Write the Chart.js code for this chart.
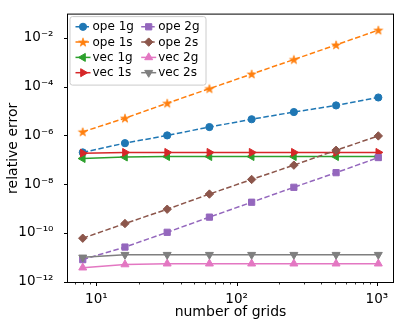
<!DOCTYPE html>
<html>
<head>
<meta charset="utf-8">
<script src="https://cdn.jsdelivr.net/npm/chart.js@4.4.0/dist/chart.umd.min.js"></script>
<style>
  html, body { margin: 0; padding: 0; background: #fff; }
</style>
</head>
<body>
<canvas id="myChart" width="399" height="325"></canvas>
<script>
// number of grids
const grids = [8, 16, 32, 64, 128, 256, 512, 1024];

// relative error per series
const ope1g = [2.0e-7, 4.8e-7, 1.0e-6, 2.2e-6, 4.6e-6, 9.1e-6, 1.7e-5, 3.6e-5];
const ope1s = [1.4e-6, 5.1e-6, 2.1e-5, 8.3e-5, 3.3e-4, 1.3e-3, 5.2e-3, 2.1e-2];
const vec1g = [1.12e-7, 1.29e-7, 1.35e-7, 1.35e-7, 1.35e-7, 1.35e-7, 1.35e-7, 1.35e-7];
const vec1s = [1.86e-7, 2.0e-7, 2.0e-7, 2.0e-7, 2.0e-7, 2.0e-7, 2.0e-7, 2.0e-7];
const ope2g = [7.9e-12, 2.6e-11, 1.05e-10, 4.4e-10, 1.8e-9, 7.4e-9, 2.95e-8, 1.23e-7];
const ope2s = [6.0e-11, 2.4e-10, 9.3e-10, 3.9e-9, 1.55e-8, 6.0e-8, 2.45e-7, 9.5e-7];
const vec2g = [3.7e-12, 5.0e-12, 5.4e-12, 5.4e-12, 5.4e-12, 5.4e-12, 5.4e-12, 5.4e-12];
const vec2s = [9.8e-12, 1.26e-11, 1.26e-11, 1.26e-11, 1.26e-11, 1.26e-11, 1.26e-11, 1.26e-11];

const seriesNames = ['ope 1g', 'ope 1s', 'vec 1g', 'vec 1s', 'ope 2g', 'ope 2s', 'vec 2g', 'vec 2s'];
const seriesValues = [ope1g, ope1s, vec1g, vec1s, ope2g, ope2s, vec2g, vec2s];

// y tick exponents (labelled), x decades
const yTickExps = [-12, -10, -8, -6, -4, -2];
const xDecades = [0, 1, 2, 3];

const colors = ['#1f77b4', '#ff7f0e', '#2ca02c', '#d62728', '#9467bd', '#8c564b', '#e377c2', '#7f7f7f'];
const FONT = 'DejaVu Sans';

const sup = { '-': '\u207B', '0': '\u2070', '1': '\u00B9', '2': '\u00B2', '3': '\u00B3', '4': '\u2074',
              '5': '\u2075', '6': '\u2076', '7': '\u2077', '8': '\u2078', '9': '\u2079' };
function pow10Label(e) {
  return '10' + String(e).split('').map(ch => sup[ch]).join('');
}

function makeStar(color) {
  const c = document.createElement('canvas');
  c.width = 12; c.height = 12;
  const g = c.getContext('2d');
  g.beginPath();
  for (let k = 0; k < 10; k++) {
    const r = k % 2 ? 1.8 : 4.6;
    const a = -Math.PI / 2 + k * Math.PI / 5;
    g.lineTo(6 + r * Math.cos(a), 6.4 + r * Math.sin(a));
  }
  g.closePath();
  g.fillStyle = color; g.fill();
  g.lineWidth = 0.7; g.strokeStyle = color; g.stroke();
  return c;
}

// marker: [pointStyle, rotation, radius]
const markers = [
  ['circle', 0, 3.6],
  [makeStar(colors[1]), 0, 4],
  ['triangle', -90, 4.6],
  ['triangle', 90, 4.6],
  ['rect', 0, 4.4],
  ['rectRot', 0, 4.2],
  ['triangle', 0, 4.6],
  ['triangle', 180, 4.6]
];

const datasets = seriesNames.map((name, i) => ({
  label: name,
  data: grids.map((g, j) => ({ x: g, y: seriesValues[i][j] })),
  borderColor: colors[i],
  backgroundColor: colors[i],
  pointBackgroundColor: colors[i],
  pointBorderColor: colors[i],
  pointBorderWidth: 1,
  pointStyle: markers[i][0],
  pointRotation: markers[i][1],
  pointRadius: markers[i][2],
  pointHoverRadius: markers[i][2],
  borderWidth: 1.5,
  borderDash: name.startsWith('ope') ? [5.5, 2.5] : [],
  fill: false,
  tension: 0,
  order: 10 - i
}));

const decoPlugin = {
  id: 'deco',
  afterDraw(chart) {
    const { ctx, chartArea: a, scales: { x, y } } = chart;
    ctx.save();
    // frame
    ctx.strokeStyle = '#000';
    ctx.lineWidth = 1;
    ctx.strokeRect(a.left - 0.5, a.top - 0.5, a.right - a.left + 1, a.bottom - a.top + 1);
    // x ticks
    x.ticks.forEach(t => {
      const px = Math.round(x.getPixelForValue(t.value)) + 0.5;
      ctx.lineWidth = t.major ? 1 : 0.8;
      ctx.beginPath();
      ctx.moveTo(px, a.bottom + 0.5);
      ctx.lineTo(px, a.bottom + (t.major ? 4 : 2.5));
      ctx.stroke();
    });
    // y ticks
    y.ticks.forEach(t => {
      const py = Math.round(y.getPixelForValue(t.value)) + 0.5;
      ctx.lineWidth = 1;
      ctx.beginPath();
      ctx.moveTo(a.left - 0.5, py);
      ctx.lineTo(a.left - 4, py);
      ctx.stroke();
    });

    // legend, two columns, upper left
    const bx = a.left + 1.5, by = a.top + 1.5, bw = 136, bh = 68.5;
    ctx.beginPath();
    ctx.roundRect(bx + 0.5, by + 0.5, bw, bh, 2.5);
    ctx.fillStyle = 'rgba(255,255,255,0.8)';
    ctx.fill();
    ctx.strokeStyle = '#cccccc';
    ctx.lineWidth = 1;
    ctx.stroke();

    ctx.font = '12px "' + FONT + '"';
    ctx.textBaseline = 'middle';
    ctx.textAlign = 'left';
    chart.data.datasets.forEach((ds, i) => {
      const col = Math.floor(i / 4), row = i % 4;
      const cx = bx + (col ? 71.7 : 6);
      const cy = by + 10.7 + row * 15.3;
      ctx.strokeStyle = ds.borderColor;
      ctx.fillStyle = ds.borderColor;
      ctx.lineWidth = 1.5;
      ctx.setLineDash(ds.borderDash);
      ctx.beginPath();
      ctx.moveTo(cx, cy);
      ctx.lineTo(cx + 15, cy);
      ctx.stroke();
      ctx.setLineDash([]);
      ctx.lineWidth = 1;
      Chart.helpers.drawPoint(ctx, {
        pointStyle: ds.pointStyle, rotation: ds.pointRotation,
        radius: ds.pointRadius, borderWidth: 1
      }, cx + 7.5, cy);
      ctx.fillStyle = '#000';
      ctx.fillText(ds.label, cx + 17, cy + 0.5);
    });
    ctx.restore();
  }
};

new Chart(document.getElementById('myChart'), {
  type: 'line',
  data: { datasets },
  options: {
    responsive: false,
    animation: false,
    events: [],
    layout: { padding: { top: 5, right: 6, left: 0, bottom: 0 } },
    plugins: {
      legend: { display: false },
      tooltip: { enabled: false }
    },
    scales: {
      x: {
        type: 'logarithmic',
        min: Math.pow(10, 0.798),
        max: Math.pow(10, 3.115),
        grid: { display: false },
        border: { display: false },
        afterBuildTicks(scale) {
          const ticks = [];
          xDecades.forEach(d => {
            for (let m = 1; m <= 9; m++) {
              const v = m * Math.pow(10, d);
              if (v >= scale.min && v <= scale.max) ticks.push({ value: v, major: m === 1 });
            }
          });
          scale.ticks = ticks;
        },
        afterFit(scale) { scale.height = 43; },
        ticks: {
          autoSkip: false,
          maxRotation: 0,
          minRotation: 0,
          padding: 1,
          color: '#000',
          font: { family: FONT, size: 13.5 },
          callback: (v) => {
            const e = Math.log10(v);
            return Math.abs(e - Math.round(e)) < 1e-9 ? pow10Label(Math.round(e)) : '';
          }
        },
        title: {
          display: true,
          text: 'number of grids',
          color: '#000',
          font: { family: FONT, size: 14 },
          padding: { top: 0, bottom: 4 }
        }
      },
      y: {
        type: 'logarithmic',
        min: Math.pow(10, -12.02),
        max: Math.pow(10, -1.04),
        grid: { display: false },
        border: { display: false },
        afterBuildTicks(scale) {
          scale.ticks = yTickExps.map(e => ({ value: Math.pow(10, e), major: true }));
        },
        afterFit(scale) { scale.width = 68; },
        ticks: {
          autoSkip: false,
          padding: 6.5,
          color: '#000',
          font: { family: FONT, size: 13.5 },
          callback: (v) => pow10Label(Math.round(Math.log10(v)))
        },
        title: {
          display: true,
          text: 'relative error',
          color: '#000',
          font: { family: FONT, size: 14 },
          padding: { top: 5, bottom: 0 }
        }
      }
    }
  },
  plugins: [decoPlugin]
});
</script>
</body>
</html>
